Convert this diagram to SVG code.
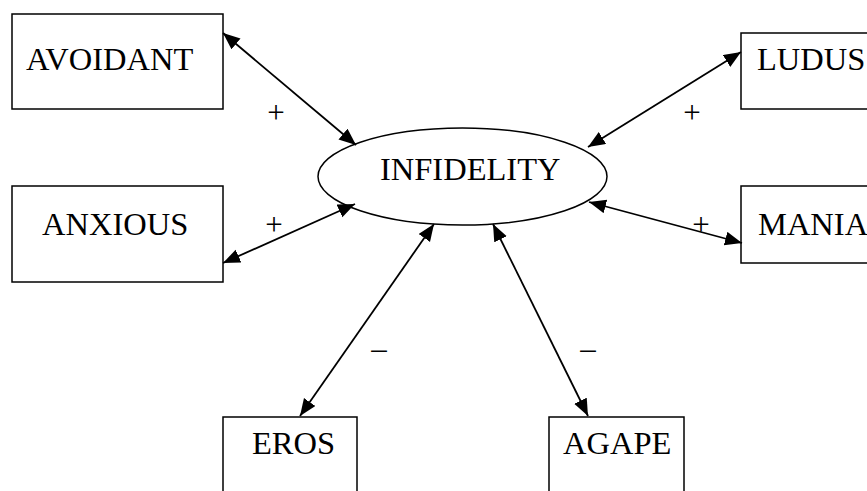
<svg xmlns="http://www.w3.org/2000/svg" width="867" height="491" viewBox="0 0 867 491">
<style>
.box{fill:#fff;stroke:#000;stroke-width:1.5}
.t{font-family:"Liberation Serif","Times New Roman",serif;font-size:32.5px;fill:#000}
.lbl{font-family:"Liberation Serif","Times New Roman",serif;font-size:31px;fill:#000;text-anchor:middle}
.c{stroke:#000;stroke-width:1.8;fill:none;marker-start:url(#ah);marker-end:url(#ah)}
</style>
<defs>
<marker id="ah" markerUnits="userSpaceOnUse" markerWidth="18" markerHeight="16" refX="17" refY="7" orient="auto-start-reverse" viewBox="0 0 18 16">
<path d="M0,0 L17,7 L0,14 z" fill="#000"/>
</marker>
</defs>
<rect width="867" height="491" fill="#fff"/>
<g id="avoidant"><rect class="box" x="12" y="14" width="211" height="95"/><text class="t" x="26" y="70">AVOIDANT</text></g>
<g id="anxious"><rect class="box" x="12" y="186" width="211" height="96"/><text class="t" x="42" y="235">ANXIOUS</text></g>
<g id="infidelity"><ellipse cx="462.5" cy="176.5" rx="144.5" ry="48.5" fill="#fff" stroke="#000" stroke-width="1.5"/><text class="t" x="380" y="180">INFIDELITY</text></g>
<g id="ludus"><rect class="box" x="741" y="33" width="140" height="76"/><text class="t" x="757" y="70">LUDUS</text></g>
<g id="mania"><rect class="box" x="741" y="186" width="140" height="77"/><text class="t" x="758" y="235">MANIA</text></g>
<g id="eros"><rect class="box" x="223" y="417" width="134" height="90"/><text class="t" x="252" y="454">EROS</text></g>
<g id="agape"><rect class="box" x="549" y="417" width="135" height="90"/><text class="t" x="563" y="454">AGAPE</text></g>
<g id="connectors">
<line class="c" x1="223" y1="33" x2="356" y2="145"/>
<line class="c" x1="223" y1="263" x2="355" y2="204"/>
<line class="c" x1="741" y1="52" x2="588" y2="147"/>
<line class="c" x1="742" y1="243" x2="589" y2="202"/>
<line class="c" x1="300" y1="416" x2="434" y2="224"/>
<line class="c" x1="588" y1="416" x2="493" y2="224"/>
<text class="lbl" x="276" y="123">+</text>
<text class="lbl" x="274" y="235">+</text>
<text class="lbl" x="692" y="123">+</text>
<text class="lbl" x="701" y="235">+</text>
<text class="lbl" x="379" y="359">–</text>
<text class="lbl" x="588" y="359">–</text>
</g>
</svg>
